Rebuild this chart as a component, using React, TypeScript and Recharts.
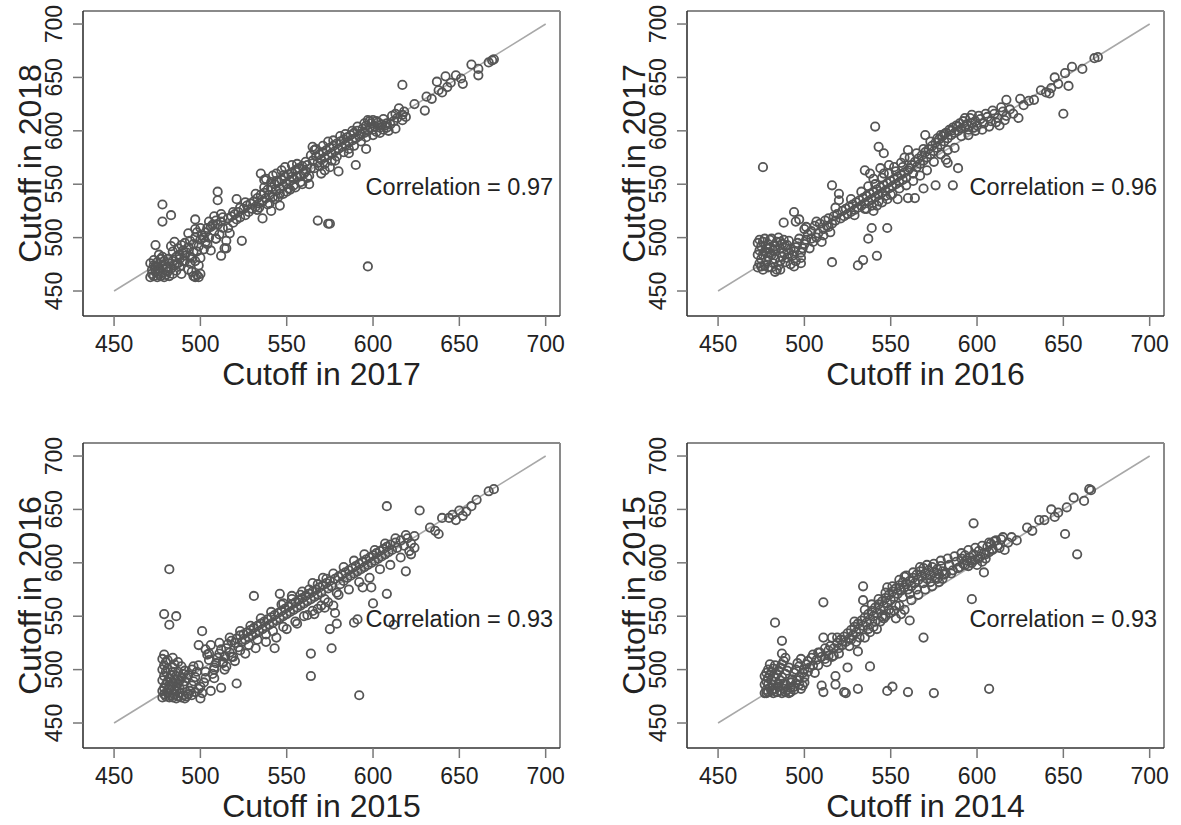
import React from 'react';
import { ScatterChart, Scatter, XAxis, YAxis, ReferenceLine, ReferenceDot } from 'recharts';

// Cutoff scores, earlier year on x, later year on y
const pairs17v18: [number, number][] = [
  [471,463],[472,466],[473,464],[474,468],[475,463],[476,466],[477,464],[478,467],[479,463],[480,465],[481,468],[482,464],[484,466],
  [472,470],[474,473],[476,471],[478,474],[480,472],[482,476],[471,476],[473,479],[475,477],[477,480],[479,478],[483,471],[485,474],
  [486,469],[487,476],[489,466],[488,480],[490,478],[491,483],[493,470],[494,476],[495,468],[496,464],[497,463],[498,465],[499,463],
  [500,466],[499,474],[497,478],[495,481],[492,486],[490,488],[488,484],[486,482],[484,487],[487,490],[489,493],[491,495],[493,491],
  [494,497],[496,494],[497,500],[498,487],[500,481],[499,492],[502,489],[503,496],[501,502],[500,498],[485,496],[483,492],[474,493],
  [479,475],[481,480],[476,484],[478,482],[484,478],
  [478,531],[483,521],[478,515],[497,517],[497,508],[500,509],[493,504],
  [503,505],[505,500],[506,510],[508,506],[509,499],[510,512],[511,503],[512,515],[513,509],[514,490],[515,497],[516,518],[517,504],
  [518,520],[519,514],[520,522],[521,517],[522,524],[523,519],[524,497],[525,527],[526,521],[527,530],[528,524],[529,532],[530,527],
  [510,543],[510,535],[521,536],[526,533],[512,483],[515,490],[509,499],[506,488],[504,494],[508,520],[505,515],[512,522],
  [531,534],[532,529],[533,537],[534,532],[535,540],[536,534],[537,542],[538,537],[539,545],[540,540],[541,547],[542,538],[543,550],
  [544,544],[545,552],[546,546],[547,554],[548,548],[549,557],[550,550],[551,559],[552,553],[553,561],[554,555],[555,563],[556,557],
  [557,565],[558,552],[559,567],[560,560],[535,560],[537,554],[536,518],[533,526],[540,532],[545,538],[550,543],[555,547],[538,555],
  [542,558],[547,563],[549,566],[553,568],[556,569],[544,560],[541,525],[546,530],[548,541],[552,545],
  [561,562],[562,568],[563,558],[564,565],[565,572],[565,585],[566,582],[567,576],[568,570],[569,578],[570,573],[571,580],[572,575],
  [573,582],[574,577],[575,584],[576,579],[577,586],[578,581],[579,588],[580,583],[581,590],[582,585],[583,592],[584,587],[585,594],
  [586,589],[587,596],[588,591],[589,598],[590,593],[591,600],[592,595],[593,597],[594,602],[595,598],[596,605],[597,600],[598,603],
  [599,607],[600,601],[568,516],[574,513],[575,513],[580,562],[586,579],[590,568],[596,583],[597,473],[570,560],[575,566],[563,550],
  [572,563],[578,572],
  [601,604],[602,599],[603,608],[604,603],[605,606],[606,601],[607,605],[608,603],[597,610],[600,610],[613,602],[613,616],[614,612],
  [615,621],[617,615],[617,610],[618,618],[619,613],[612,609],[610,606],
  [617,643],[624,625],[630,619],[631,632],[634,630],[637,646],[638,638],[640,636],[642,651],[643,641],[645,645],[648,652],[651,649],
  [652,644],[657,662],[661,658],[661,652],[667,664],[669,666],[670,667],
  [532,541],[534,528],[537,547],[539,531],[541,552],[543,536],[544,553],[546,541],[548,558],[551,546],[553,557],[554,549],[556,564],
  [558,558],[559,550],[561,571],[562,556],[564,577],[566,565],[567,583],[569,567],[571,586],[572,569],[574,590],[576,572],[577,591],
  [579,576],[581,595],[583,580],[584,597],[586,583],[588,600],[589,586],[591,604],[593,590],[595,607],[596,594],[598,609],[600,596],
  [602,609],[604,598],[606,611],[608,607],[609,600],[611,614],[523,528],[519,524],[516,509],[513,519],[507,512],[502,500],[498,505],
  [504,509],[509,516],[488,473],[491,478],[494,482],[496,487],[481,472],[486,475],[475,470],[473,474],
];

const pairs16v17: [number, number][] = [
  [473,472],[474,476],[475,480],[473,484],[474,488],[475,492],[476,496],[477,499],[473,495],[474,498],[476,470],[477,474],[478,478],
  [479,482],[480,486],[478,490],[479,494],[480,498],[481,472],[482,476],[483,480],[481,484],[482,488],[483,492],[484,496],[485,500],
  [484,470],[485,474],[486,478],[487,482],[488,486],[486,490],[487,494],[488,498],[489,477],[490,481],[491,485],[492,489],[490,493],
  [491,497],[493,483],[494,487],[495,491],[496,495],[497,499],[498,486],[499,490],[500,494],[501,498],[483,468],[476,484],[478,486],
  [480,490],[476,566],[488,514],[494,524],[495,515],[497,517],[500,508],[502,503],[494,473],[498,476],[486,470],[503,490],[505,496],
  [507,500],[504,506],[506,511],[508,504],[510,496],[509,513],[511,508],[512,516],[513,511],[514,518],[515,505],[516,513],[517,520],
  [516,549],[520,541],[520,535],[516,477],[518,516],[519,522],[521,518],[522,525],[523,520],[524,527],[525,522],[526,529],[527,524],
  [528,531],[529,526],[530,533],[531,474],[534,479],[542,483],[537,499],[539,509],[548,509],[541,604],[543,585],[546,579],[535,563],
  [531,528],[532,535],[533,530],[534,537],[535,532],[536,539],[537,534],[538,541],[539,536],[540,543],[541,538],[542,545],[543,540],
  [544,547],[545,542],[546,549],[547,544],[548,551],[549,546],[550,553],[551,548],[552,555],[553,550],[554,557],[555,552],[556,559],
  [557,554],[558,561],[559,556],[560,563],[538,560],[540,555],[544,565],[546,560],[549,568],[552,566],[536,527],[540,525],[542,530],
  [545,533],[548,536],[554,536],[560,537],[564,537],[550,540],[556,570],[558,575],[560,582],[561,565],[562,568],[563,560],[564,571],
  [565,566],[566,574],[567,569],[568,577],[569,572],[570,580],[571,575],[572,583],[573,578],[574,586],[575,581],[576,589],[577,584],
  [578,592],[579,587],[580,595],[570,596],[579,596],[582,573],[583,570],[589,565],[586,549],[576,549],[569,546],[581,590],[582,598],
  [583,593],[584,601],[585,596],[586,603],[587,598],[588,605],[589,600],[590,607],[591,602],[592,609],[593,604],[594,606],[595,601],
  [596,612],[597,607],[598,603],[599,609],[600,605],[602,611],[604,607],[606,613],[608,609],[610,616],[612,612],[613,605],[615,618],
  [617,614],[617,629],[619,620],[621,616],[624,612],[625,630],[627,624],[630,628],[633,629],[637,638],[640,636],[642,635],[643,640],
  [645,650],[647,644],[650,616],[651,654],[653,642],[655,660],[661,658],[668,668],[670,669],
  [527,536],[529,521],[533,543],[535,527],[537,548],[539,530],[541,550],[543,534],[545,556],[547,539],[549,560],[551,541],[553,562],
  [555,546],[557,566],[559,549],[561,575],[563,553],[565,579],[567,558],[569,583],[571,563],[573,590],[575,571],[577,593],[579,578],
  [581,597],[583,582],[585,600],[587,584],[589,604],[591,595],[593,612],[595,596],[597,615],[599,600],[601,614],[603,601],[605,616],
  [607,604],[609,619],[611,608],[614,622],[616,610],[518,528],[514,510],[511,502],[507,515],[504,499],[501,510],[498,481],[495,478],
  [492,475],[489,492],[486,496],[483,489],[481,499],[479,472],[477,487],[475,473],
];

const pairs15v16: [number, number][] = [
  [478,474],[479,477],[480,475],[481,478],[482,474],[483,476],[484,474],[485,477],[486,473],[487,475],[488,478],[489,474],[490,476],
  [491,473],[492,475],[478,480],[479,483],[480,486],[481,489],[482,492],[483,495],[484,498],[478,490],[479,494],[480,498],[481,501],
  [478,500],[479,504],[480,507],[478,510],[479,514],[481,509],[482,482],[483,485],[484,488],[485,481],[486,484],[487,487],[488,490],
  [489,493],[490,496],[485,491],[486,494],[487,498],[484,502],[485,505],[486,480],[488,482],[490,486],[491,489],[492,492],[493,495],
  [494,480],[495,485],[496,489],[497,493],[498,498],[495,500],[496,503],[482,594],[479,552],[486,550],[482,542],[499,504],[500,473],
  [501,478],[500,484],[502,488],[503,492],[501,536],[499,523],[503,519],[504,514],[505,509],[506,523],[506,480],[507,496],[508,500],
  [509,506],[510,511],[512,483],[511,515],[512,519],[513,507],[514,512],[515,503],[515,520],[516,524],[517,516],[518,527],[519,512],
  [520,525],[521,487],[521,529],[522,521],[523,532],[524,526],[525,533],[526,528],[527,535],[528,530],[529,537],[530,532],[531,569],
  [531,539],[532,534],[533,541],[534,536],[535,543],[536,538],[537,545],[538,540],[539,547],[540,542],[541,549],[542,544],[543,520],
  [543,551],[544,546],[545,553],[546,571],[546,548],[547,555],[548,550],[549,557],[550,552],[551,559],[552,554],[553,561],[554,556],
  [555,563],[556,558],[557,565],[558,560],[559,567],[560,562],[561,569],[562,564],[563,571],[564,515],[564,494],[564,566],[565,573],
  [566,568],[567,575],[568,570],[569,577],[570,572],[571,579],[572,566],[573,581],[574,576],[575,583],[576,520],[576,578],[577,560],
  [578,553],[579,543],[575,538],[578,585],[579,572],[580,587],[581,580],[582,589],[583,583],[584,591],[585,586],[586,593],[587,588],
  [588,595],[589,544],[589,590],[590,597],[591,547],[591,592],[592,476],[592,599],[593,594],[594,577],[594,601],[595,596],[596,603],
  [597,598],[598,605],[599,577],[599,600],[600,562],[600,607],[601,602],[602,609],[603,604],[604,611],[605,606],[606,613],[607,608],
  [608,571],[608,653],[608,615],[609,610],[610,617],[611,612],[612,542],[613,619],[614,614],[616,621],[618,616],[619,592],[620,623],
  [621,611],[622,618],[624,614],[624,625],[627,649],[633,633],[636,630],[638,627],[640,642],[644,642],[646,645],[648,640],[650,649],
  [652,644],[654,648],[657,653],[660,659],[667,667],[670,669],[555,545],[560,550],[565,555],[570,560],[566,552],[572,558],[563,575],
  [558,570],[553,566],[548,562],[568,580],[573,585],[548,540],[542,536],[538,533],[533,528],[528,523],[523,518],[518,512],[513,506],
  [508,502],[503,498],
  [505,515],[508,492],[511,525],[514,500],[517,530],[520,508],[523,536],[526,515],[529,541],[532,520],[535,548],[538,526],[541,554],
  [544,530],[547,561],[550,538],[553,569],[556,543],[559,573],[562,551],[565,581],[568,557],[571,586],[574,563],[577,590],[580,570],
  [583,596],[586,575],[589,602],[592,582],[595,608],[598,586],[601,612],[604,594],[607,618],[610,598],[613,623],[616,605],[619,626],
  [622,608],[493,477],[495,476],[497,479],[499,482],[489,503],[491,499],[487,507],[484,511],[482,485],
];

const pairs14v15: [number, number][] = [
  [477,478],[478,481],[479,479],[480,483],[481,480],[482,478],[483,482],[484,479],[485,484],[486,480],[487,478],[488,482],[489,479],
  [490,481],[491,478],[492,483],[477,486],[478,489],[479,492],[480,495],[481,498],[482,501],[483,504],[477,494],[478,497],[479,500],
  [480,505],[481,490],[482,486],[483,493],[484,496],[485,499],[486,502],[487,505],[488,508],[486,490],[487,493],[488,487],[489,496],
  [490,499],[491,502],[489,511],[487,515],[487,527],[483,544],[492,488],[493,491],[494,484],[495,487],[496,490],[497,493],[498,482],
  [499,485],[500,488],[494,497],[495,500],[496,506],[497,503],[498,510],[499,497],[500,500],[501,505],[502,508],[503,502],[504,511],
  [505,514],[506,497],[507,509],[508,504],[509,516],[510,485],[511,479],[511,563],[511,530],[510,512],[512,520],[513,507],[514,518],
  [515,522],[516,530],[517,513],[518,486],[518,494],[519,525],[520,520],[521,528],[522,523],[523,479],[524,478],[525,502],[523,531],
  [524,526],[525,534],[526,529],[527,537],[528,532],[529,540],[530,535],[531,482],[531,517],[531,543],[532,538],[533,546],[534,578],
  [534,565],[534,541],[535,549],[536,544],[537,552],[538,503],[538,547],[539,555],[540,550],[541,558],[542,553],[543,561],[544,556],
  [545,564],[546,559],[547,567],[548,577],[548,480],[548,562],[549,570],[550,565],[551,484],[551,573],[552,568],[553,576],[554,571],
  [555,579],[556,574],[557,582],[558,587],[558,577],[559,580],[560,479],[560,575],[561,546],[561,583],[562,578],[563,586],[564,581],
  [565,589],[566,584],[567,592],[568,587],[569,530],[569,595],[570,590],[571,585],[572,593],[573,588],[574,596],[575,478],[575,591],
  [576,586],[577,594],[578,589],[579,597],[580,592],[582,590],[584,598],[586,593],[588,601],[590,596],[591,604],[592,599],[593,607],
  [594,602],[595,597],[596,605],[597,566],[597,600],[598,637],[598,608],[599,603],[600,598],[601,611],[602,606],[603,601],[604,591],
  [604,609],[605,604],[606,615],[607,482],[607,610],[608,618],[609,613],[610,620],[612,616],[614,622],[616,612],[618,619],[620,624],
  [623,621],[629,633],[632,630],[636,640],[639,640],[643,650],[645,643],[647,647],[651,627],[652,652],[656,661],[658,608],[662,658],
  [665,669],[666,668],[540,540],[544,545],[547,550],[552,555],[555,560],[538,535],[542,538],[546,548],[550,553],[556,552],[562,565],
  [566,570],[570,575],[574,578],[578,582],[580,585],[553,548],[558,556],[535,530],[530,526],[526,522],[520,515],[516,512],[512,510],
  [527,528],[529,545],[532,530],[535,556],[537,538],[539,561],[541,545],[543,566],[545,550],[547,572],[549,556],[551,578],[553,560],
  [555,584],[557,568],[559,588],[561,571],[563,591],[565,575],[567,596],[569,581],[571,598],[573,582],[575,599],[577,585],[579,602],
  [581,589],[583,604],[585,590],[587,606],[589,595],[591,609],[593,598],[595,612],[597,602],[599,614],[601,604],[603,616],[605,608],
  [607,619],[609,612],[611,621],[613,614],[615,624],[519,530],[517,520],[514,513],[508,516],[505,504],[502,498],[500,493],[497,486],
  [494,481],[492,479],[489,486],[485,487],[482,481],[479,486],[478,478],
];

const axisTicks = [450, 500, 550, 600, 650, 700];
const xYears = ['2017', '2016', '2015', '2014'];
const yYears = ['2018', '2017', '2016', '2015'];
const correlations = [0.97, 0.96, 0.93, 0.93];

const FONT = '"Liberation Sans", Arial, sans-serif';
const X_DOMAIN: [number, number] = [432, 708.3];
const Y_DOMAIN: [number, number] = [426.6, 712.2];
const PLOT_LEFT = 83;
const PLOT_W = 477;
const PLOT_TOP = 11;
const PLOT_H = 305;

const YTick = (props: any) => {
  const { x, y, payload } = props;
  return (
    <text x={x} y={y} transform={`rotate(-90 ${x} ${y})`} textAnchor="middle" dominantBaseline="central"
      fontFamily={FONT} fontSize={23} fill="#222">
      {payload.value}
    </text>
  );
};

const circleShape = (p: any) => (
  <circle cx={p.cx} cy={p.cy} r={4.2} fill="none" stroke="#555" strokeWidth={1.8} />
);

interface PanelProps {
  pairs: [number, number][];
  xYear: string;
  yYear: string;
  corr: number;
  width: number;
  height: number;
}

function Panel({ pairs, xYear, yYear, corr, width, height }: PanelProps) {
  const data = pairs.map(([x, y]) => ({ x, y }));
  const xAxisHeight = height - PLOT_TOP - PLOT_H;
  return (
    <ScatterChart width={width} height={height}
      margin={{ top: PLOT_TOP, right: width - PLOT_LEFT - PLOT_W, bottom: 0, left: 0 }}>
      <XAxis type="number" dataKey="x" domain={X_DOMAIN} ticks={axisTicks} allowDataOverflow
        height={xAxisHeight} tickSize={10} tickMargin={10}
        axisLine={{ stroke: '#333', strokeWidth: 1.6 }} tickLine={{ stroke: '#777', strokeWidth: 1.5 }}
        tick={{ fontFamily: FONT, fontSize: 23, fill: '#222' }}
        label={{
          content: ({ viewBox }: any) => (
            <text x={viewBox.x + viewBox.width / 2} y={viewBox.y + 58} textAnchor="middle" dominantBaseline="central"
              fontFamily={FONT} fontSize={32} fill="#222">
              {`Cutoff in ${xYear}`}
            </text>
          ),
        }}
      />
      <YAxis type="number" dataKey="y" domain={Y_DOMAIN} ticks={axisTicks} allowDataOverflow
        width={PLOT_LEFT} tickSize={10} tickMargin={19}
        axisLine={{ stroke: '#333', strokeWidth: 1.6 }} tickLine={{ stroke: '#777', strokeWidth: 1.5 }}
        tick={<YTick />}
        label={{
          content: ({ viewBox }: any) => {
            const cx = 30;
            const cy = viewBox.y + viewBox.height / 2;
            return (
              <text x={cx} y={cy} transform={`rotate(-90 ${cx} ${cy})`} textAnchor="middle" dominantBaseline="central"
                fontFamily={FONT} fontSize={32} fill="#222">
                {`Cutoff in ${yYear}`}
              </text>
            );
          },
        }}
      />
      {/* top and right edges of the frame */}
      <ReferenceLine y={Y_DOMAIN[1]} stroke="#8a8a8a" strokeWidth={2} ifOverflow="visible" />
      <ReferenceLine x={X_DOMAIN[1]} stroke="#8a8a8a" strokeWidth={2} ifOverflow="visible" />
      <Scatter data={data} shape={circleShape} isAnimationActive={false} />
      {/* 45-degree line */}
      <ReferenceLine segment={[{ x: 450, y: 450 }, { x: 700, y: 700 }]} stroke="#a8a8a8" strokeWidth={1.6} />
      <ReferenceDot x={650} y={548} r={0} fill="none" stroke="none"
        label={{ value: `Correlation = ${corr.toFixed(2)}`, position: 'center', fontFamily: FONT, fontSize: 23.5, fill: '#222' }}
      />
    </ScatterChart>
  );
}

export default function App() {
  const panels = [pairs17v18, pairs16v17, pairs15v16, pairs14v15];
  const boxes = [
    { left: 0, top: 0, width: 604, height: 432 },
    { left: 604, top: 0, width: 577, height: 432 },
    { left: 0, top: 432, width: 604, height: 393 },
    { left: 604, top: 432, width: 577, height: 393 },
  ];
  return (
    <div style={{ position: 'absolute', left: 0, top: 0, width: 1181, height: 825, background: '#fff' }}>
      {panels.map((pairs, i) => (
        <div key={i} style={{ position: 'absolute', ...boxes[i] }}>
          <Panel pairs={pairs} xYear={xYears[i]} yYear={yYears[i]} corr={correlations[i]}
            width={boxes[i].width} height={boxes[i].height} />
        </div>
      ))}
    </div>
  );
}
